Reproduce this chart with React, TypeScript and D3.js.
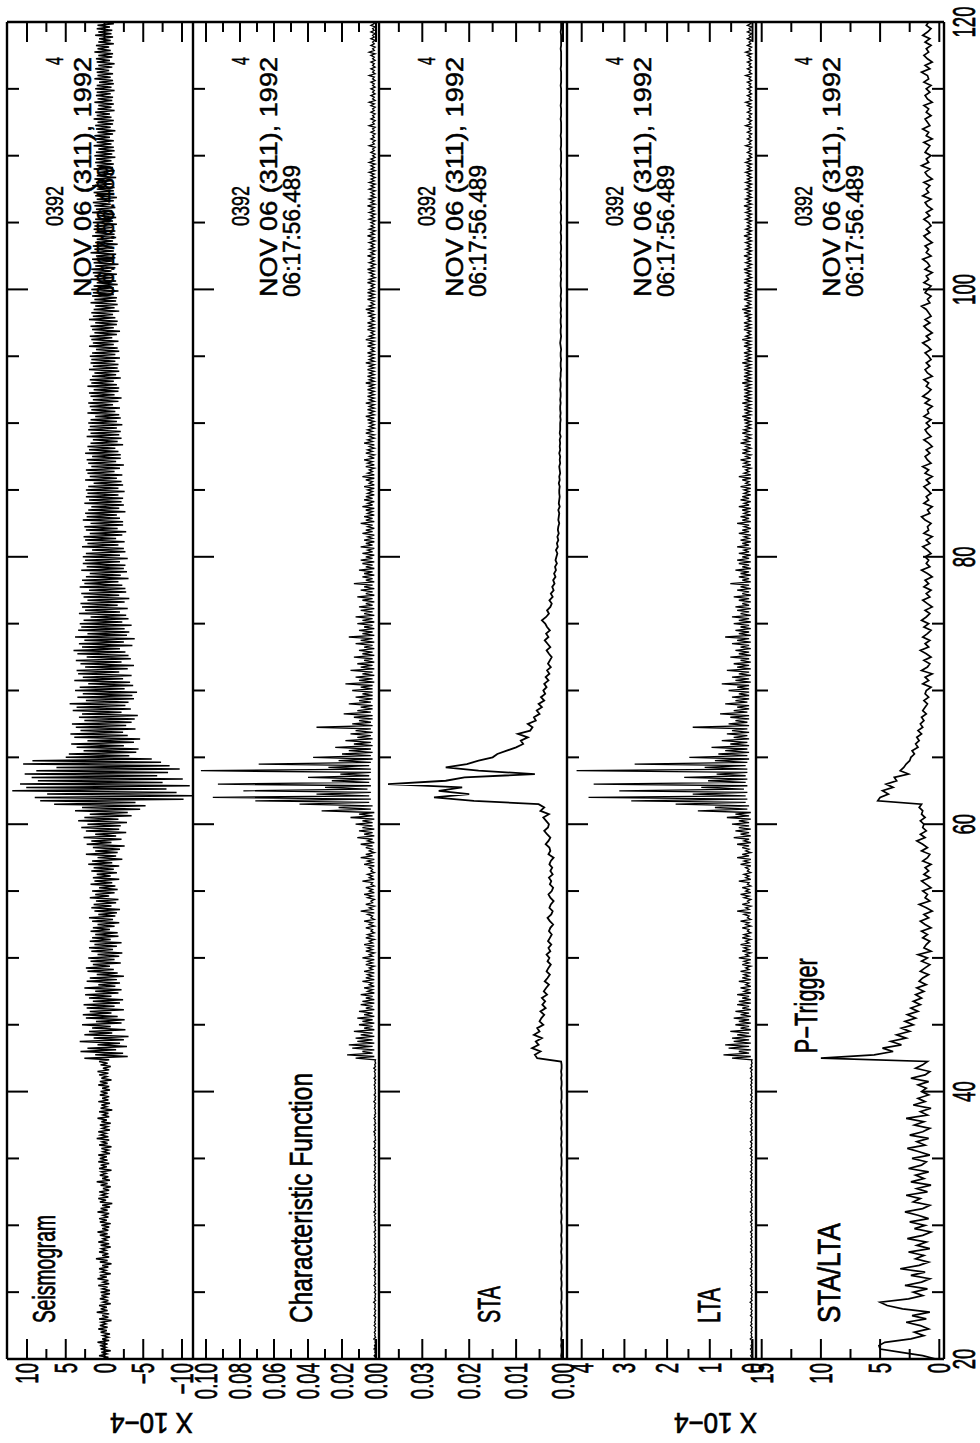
import React from 'react';
import * as d3 from 'd3';

const startTime = 20;
const endTime = 120;

// Seismogram (x 10^-4), 0.125 s samples, 20 s .. 120 s
const seismogram = [
  0.2,-0.5,0.7,-0.3,0.4,-0.8,0.5,-0.2,0.6,-0.4, 0.9,-0.6,0.3,-0.5,0.2,-0.7,0.5,-0.3,0.8,-0.4, 0.6,-0.2,0.4,-0.9,0.7,-0.5,0.3,-0.6,1.0,-0.4, 0.5,-0.3,0.7,-0.8,0.2,-0.5,0.6,-0.3,0.4,-0.7,
  0.5,-0.7,0.3,-0.4,0.8,-0.6,0.2,-0.5,0.9,-0.3, 0.6,-0.8,0.4,-0.2,0.7,-0.5,0.3,-0.9,0.6,-0.4, 1.1,-0.6,0.3,-0.5,0.7,-0.2,0.4,-0.8,0.5,-0.6, 0.8,-0.3,0.2,-0.7,0.6,-0.4,0.9,-0.5,0.3,-0.6,
  0.4,-0.8,0.6,-0.3,0.7,-0.5,0.2,-0.6,0.9,-0.4, 0.5,-0.7,0.3,-1.0,0.6,-0.2,0.8,-0.5,0.4,-0.3, 0.7,-0.6,0.2,-0.8,0.5,-0.4,1.0,-0.7,0.3,-0.5, 0.6,-0.2,0.4,-0.9,0.7,-0.3,0.5,-0.6,0.8,-0.4,
  0.6,-0.3,0.8,-0.7,0.2,-0.5,0.4,-0.9,0.7,-0.4, 0.3,-0.6,1.0,-0.5,0.5,-0.2,0.8,-0.7,0.3,-0.4, 0.6,-0.8,0.4,-0.3,0.9,-0.6,0.2,-0.5,0.7,-1.0, 0.5,-0.3,0.4,-0.7,0.8,-0.5,0.3,-0.6,0.6,-0.4,
  0.5,-0.7,0.3,-0.6,0.8,-0.4,0.6,-0.9,0.4,-0.3, 0.7,-0.5,0.9,-0.6,0.2,-0.8,0.5,-0.4,0.7,-0.6, 2.6,-3.0,1.2,-2.4,3.1,-1.5,2.2,-2.9,0.9,-2.0, 3.2,-2.5,1.4,-3.1,2.6,-1.0,2.0,-2.7,1.6,-0.8,
  2.9,-2.2,1.1,-2.6,2.4,-1.7,2.8,-0.9,1.9,-2.5, 2.3,-1.3,2.7,-2.0,1.5,-2.4,2.0,-0.9,2.5,-1.8, 1.2,-2.2,2.6,-1.4,0.8,-2.0,2.3,-1.6,1.9,-2.5, 1.0,-1.7,2.2,-1.2,2.4,-0.7,1.5,-2.1,1.8,-1.3,
  2.1,-1.9,0.9,-2.3,1.7,-1.1,2.0,-1.6,1.3,-2.2, 1.9,-0.8,1.6,-1.8,1.2,-1.7,1.8,-0.7,1.5,-1.3, 0.9,-1.9,1.6,-1.1,2.0,-1.4,0.8,-1.6,1.3,-2.0, 1.7,-0.9,1.4,-1.5,1.1,-1.8,1.9,-0.6,1.2,-1.3,
  1.6,-1.7,0.7,-1.4,1.8,-1.0,1.3,-1.9,1.5,-0.8, 1.0,-1.6,1.7,-1.2,1.4,-1.9,2.1,-1.0,1.6,-2.3, 0.9,-1.5,2.4,-1.7,1.2,-2.0,1.5,-2.6,2.3,-0.9, 1.7,-2.2,2.7,-1.5,1.2,-2.8,2.4,-1.9,3.0,-2.1,
  2.2,-2.9,3.4,-1.8,2.6,-3.5,1.9,-3.0, 3.8,-4.6,2.9,-5.3,6.5,-4.0,8.3,-10.2, 9.0,-11.6,7.4,-9.3,11.9,-8.0,10.1,-11.0, 10.9,-7.5,8.6,-10.1,9.4,-6.8,10.3,-8.2, 8.8,-9.7,6.2,-8.4,10.5,-7.3,9.3,-6.1,
  5.0,-3.2,4.6,-4.1,2.7,-4.4,3.6,-2.5,4.3,-3.8, 2.2,-4.6,3.9,-3.0,4.4,-2.4,3.1,-4.0,3.7,-2.8, 4.2,-3.5,2.6,-3.9,3.3,-4.3,2.9,-2.2,4.1,-3.4, 3.6,-2.7,4.5,-3.1,2.4,-3.8,3.5,-3.6,2.8,-4.2,
  3.8,-2.6,3.2,-3.7,2.1,-3.3,3.9,-2.4,2.8,-3.5, 3.4,-1.9,3.6,-3.0,2.5,-3.8,3.1,-2.2,3.7,-3.4, 2.3,-3.1,3.5,-2.7,4.0,-2.0,2.9,-3.6,3.3,-2.5, 2.6,-3.9,3.8,-2.9,2.2,-3.2,3.4,-2.6,3.0,-3.5,
  3.2,-2.3,2.7,-3.1,1.8,-2.8,3.3,-2.0,2.5,-3.0, 2.9,-1.7,3.1,-2.6,2.2,-3.2,2.7,-1.9,3.0,-2.8, 2.0,-2.7,3.2,-2.3,2.6,-1.8,2.9,-3.1,2.4,-2.1, 1.9,-2.9,3.0,-2.5,2.3,-2.7,2.8,-2.0,2.5,-3.0,
  2.8,-2.0,2.4,-2.7,1.6,-2.5,2.9,-1.8,2.2,-2.6, 2.5,-1.5,2.7,-2.3,1.9,-2.8,2.4,-1.7,2.6,-2.4, 1.8,-2.4,2.8,-2.0,2.3,-1.6,2.5,-2.7,2.1,-1.9, 1.7,-2.5,2.6,-2.2,2.0,-2.4,2.4,-1.8,2.2,-2.6,
  2.4,-1.8,2.1,-2.4,1.4,-2.2,2.5,-1.6,1.9,-2.3, 2.2,-1.3,2.4,-2.0,1.7,-2.5,2.1,-1.5,2.3,-2.1, 1.6,-2.1,2.5,-1.8,2.0,-1.4,2.2,-2.4,1.8,-1.7, 1.5,-2.2,2.3,-1.9,1.8,-2.1,2.1,-1.6,1.9,-2.3,
  2.1,-1.6,1.8,-2.1,1.2,-1.9,2.2,-1.4,1.7,-2.0, 1.9,-1.1,2.1,-1.8,1.5,-2.2,1.8,-1.3,2.0,-1.8, 1.4,-1.9,2.2,-1.6,1.7,-1.2,1.9,-2.1,1.6,-1.5, 1.3,-1.9,2.0,-1.7,1.5,-1.8,1.8,-1.4,1.7,-2.0,
  1.9,-1.4,1.6,-1.9,1.1,-1.7,2.0,-1.2,1.5,-1.8, 1.7,-1.0,1.9,-1.6,1.3,-2.0,1.6,-1.2,1.8,-1.6, 1.2,-1.7,2.0,-1.4,1.5,-1.1,1.7,-1.9,1.4,-1.3, 1.2,-1.7,1.8,-1.5,1.3,-1.6,1.6,-1.2,1.5,-1.8,
  1.7,-1.2,1.4,-1.7,1.0,-1.5,1.8,-1.1,1.3,-1.6, 1.5,-0.9,1.7,-1.4,1.2,-1.8,1.4,-1.0,1.6,-1.4, 1.1,-1.5,1.8,-1.2,1.3,-1.0,1.5,-1.7,1.2,-1.1, 1.0,-1.5,1.6,-1.3,1.2,-1.4,1.4,-1.0,1.3,-1.6,
  1.5,-1.1,1.2,-1.5,0.9,-1.3,1.6,-1.0,1.1,-1.4, 1.3,-0.8,1.5,-1.2,1.0,-1.6,1.2,-0.9,1.4,-1.2, 1.0,-1.3,1.6,-1.0,1.1,-0.8,1.3,-1.5,1.0,-1.0, 0.9,-1.3,1.4,-1.1,1.0,-1.2,1.2,-0.9,1.1,-1.4,
  1.3,-1.0,1.1,-1.3,0.8,-1.2,1.4,-0.9,1.0,-1.2, 1.1,-0.7,1.3,-1.1,0.9,-1.4,1.1,-0.8,1.2,-1.1, 0.9,-1.2,1.4,-0.9,1.0,-0.7,1.2,-1.3,0.9,-0.9, 0.8,-1.2,1.3,-1.0,0.9,-1.1,1.1,-0.8,1.0,-1.3,
  1.2,-0.9,1.0,-1.2,0.7,-1.1,1.3,-0.8,0.9,-1.1, 1.0,-0.6,1.2,-1.0,0.8,-1.3,1.0,-0.7,1.1,-1.0, 0.8,-1.1,1.3,-0.8,0.9,-0.6,1.1,-1.2,0.8,-0.8, 0.7,-1.1,1.2,-0.9,0.8,-1.0,1.0,-0.7,0.9,-1.2,
  0.4,
];

// Characteristic function, 0.125 s samples
const characteristicFunction = [
  0.0008,0.0003,0.0011,0.0002,0.0007,0.0004,0.0012,0.0003,0.0009,0.0002, 0.0006,0.0003,0.0013,0.0002,0.0008,0.0004,0.001,0.0003,0.0007,0.0002, 0.0011,0.0003,0.0009,0.0004,0.0006,0.0002,0.0012,0.0003,0.0008,0.0002, 0.001,0.0004,0.0007,0.0003,0.0014,0.0002,0.0009,0.0003,0.0006,0.0002,
  0.001,0.0002,0.0007,0.0003,0.0012,0.0002,0.0008,0.0004,0.0006,0.0003, 0.0011,0.0002,0.0009,0.0003,0.0013,0.0004,0.0007,0.0002,0.001,0.0003, 0.0008,0.0002,0.0006,0.0004,0.0012,0.0003,0.0009,0.0002,0.0011,0.0003, 0.0007,0.0004,0.001,0.0002,0.0008,0.0003,0.0012,0.0002,0.0006,0.0003,
  0.0009,0.0003,0.0012,0.0002,0.0007,0.0004,0.001,0.0002,0.0013,0.0003, 0.0008,0.0002,0.0006,0.0003,0.0011,0.0004,0.0009,0.0002,0.0007,0.0003, 0.0012,0.0002,0.0008,0.0003,0.001,0.0004,0.0006,0.0002,0.0011,0.0003, 0.0009,0.0002,0.0013,0.0004,0.0007,0.0003,0.001,0.0002,0.0008,0.0003,
  0.0007,0.0002,0.0011,0.0003,0.0009,0.0002,0.0014,0.0004,0.0008,0.0003, 0.0012,0.0002,0.0006,0.0003,0.001,0.0004,0.0013,0.0002,0.0008,0.0003, 0.0011,0.0002,0.0007,0.0004,0.0012,0.0003,0.0009,0.0002,0.0006,0.0003, 0.001,0.0004,0.0008,0.0002,0.0013,0.0003,0.0007,0.0002,0.0011,0.0003,
  0.0006,0.0003,0.0009,0.0004,0.0011,0.0003,0.0008,0.0002,0.0012,0.0003, 0.0007,0.0004,0.001,0.0002,0.0013,0.0003,0.0008,0.0002,0.0006,0.0003, 0.012,0.001,0.017,0.002,0.008,0.001,0.014,0.002,0.016,0.001, 0.011,0.002,0.012,0.001,0.009,0.002,0.013,0.001,0.007,0.002,
  0.010,0.001,0.008,0.002,0.011,0.001,0.007,0.002,0.010,0.001, 0.006,0.002,0.009,0.001,0.008,0.001,0.006,0.002,0.009,0.001, 0.005,0.002,0.007,0.001,0.004,0.002,0.008,0.001,0.006,0.002, 0.005,0.001,0.007,0.002,0.004,0.001,0.006,0.002,0.005,0.001,
  0.008,0.002,0.004,0.001,0.006,0.002,0.005,0.001,0.007,0.002, 0.004,0.001,0.006,0.002,0.005,0.001,0.003,0.002,0.006,0.001, 0.004,0.002,0.007,0.001,0.003,0.002,0.005,0.001,0.009,0.002, 0.004,0.001,0.006,0.002,0.003,0.001,0.005,0.002,0.007,0.001,
  0.004,0.002,0.006,0.001,0.003,0.002,0.008,0.001,0.004,0.002, 0.005,0.001,0.003,0.002,0.004,0.001,0.007,0.002,0.005,0.001, 0.009,0.002,0.006,0.001,0.004,0.002,0.006,0.002,0.009,0.001, 0.005,0.002,0.011,0.001,0.007,0.002,0.010,0.001,0.008,0.002,
  0.012,0.002,0.008,0.001,0.015,0.002,0.010,0.001, 0.032,0.003,0.022,0.002,0.045,0.004,0.071,0.003, 0.096,0.004,0.035,0.003,0.078,0.005,0.030,0.003, 0.093,0.004,0.026,0.003,0.040,0.004,0.021,0.003, 0.103,0.003,0.028,0.004,0.069,0.003,0.022,0.002,
  0.037,0.003,0.020,0.002,0.016,0.003,0.024,0.002,0.013,0.003, 0.018,0.002,0.011,0.003,0.015,0.002,0.012,0.003,0.035,0.002, 0.014,0.003,0.010,0.002,0.013,0.002,0.019,0.003,0.011,0.002, 0.009,0.002,0.016,0.003,0.010,0.002,0.012,0.002,0.008,0.002,
  0.014,0.002,0.009,0.002,0.018,0.001,0.010,0.002,0.012,0.001, 0.008,0.002,0.015,0.001,0.009,0.002,0.011,0.001,0.007,0.002, 0.013,0.001,0.008,0.002,0.010,0.001,0.007,0.002,0.012,0.001, 0.009,0.002,0.016,0.001,0.008,0.002,0.010,0.001,0.007,0.002,
  0.011,0.001,0.008,0.002,0.012,0.001,0.007,0.002,0.009,0.001, 0.010,0.002,0.006,0.001,0.008,0.002,0.011,0.001,0.006,0.002, 0.009,0.001,0.007,0.002,0.013,0.001,0.006,0.002,0.008,0.001, 0.007,0.002,0.010,0.001,0.006,0.002,0.008,0.001,0.009,0.002,
  0.006,0.001,0.008,0.002,0.005,0.001,0.009,0.002,0.006,0.001, 0.007,0.002,0.005,0.001,0.008,0.002,0.006,0.001,0.005,0.002, 0.009,0.001,0.006,0.002,0.007,0.001,0.005,0.002,0.006,0.001, 0.008,0.002,0.005,0.001,0.007,0.002,0.006,0.001,0.005,0.002,
  0.005,0.001,0.007,0.001,0.004,0.002,0.006,0.001,0.008,0.001, 0.005,0.002,0.004,0.001,0.006,0.001,0.005,0.002,0.007,0.001, 0.004,0.001,0.006,0.002,0.005,0.001,0.004,0.001,0.007,0.002, 0.005,0.001,0.004,0.001,0.006,0.002,0.005,0.001,0.004,0.001,
  0.004,0.001,0.005,0.001,0.006,0.001,0.004,0.001,0.005,0.001, 0.004,0.001,0.006,0.001,0.004,0.001,0.005,0.001,0.004,0.001, 0.005,0.001,0.004,0.001,0.006,0.001,0.004,0.001,0.005,0.001, 0.004,0.001,0.005,0.001,0.004,0.001,0.006,0.001,0.004,0.001,
  0.004,0.001,0.005,0.001,0.003,0.001,0.005,0.001,0.004,0.001, 0.006,0.001,0.004,0.001,0.003,0.001,0.005,0.001,0.004,0.001, 0.005,0.001,0.003,0.001,0.004,0.001,0.005,0.001,0.006,0.001, 0.004,0.001,0.003,0.001,0.005,0.001,0.004,0.001,0.005,0.001,
  0.004,0.001,0.003,0.001,0.005,0.001,0.004,0.0005,0.003,0.001, 0.004,0.001,0.005,0.001,0.003,0.0005,0.004,0.001,0.003,0.001, 0.005,0.001,0.003,0.0005,0.004,0.001,0.003,0.001,0.004,0.0005, 0.003,0.001,0.005,0.001,0.003,0.0005,0.004,0.001,0.003,0.001,
  0.003,0.0005,0.004,0.001,0.003,0.0005,0.004,0.001,0.003,0.001, 0.005,0.0005,0.003,0.001,0.004,0.0005,0.003,0.001,0.003,0.0005, 0.004,0.001,0.003,0.0005,0.004,0.001,0.003,0.0005,0.003,0.001, 0.004,0.0005,0.003,0.001,0.003,0.0005,0.004,0.001,0.003,0.0005,
  0.002,0.0005,0.003,0.001,0.002,0.0005,0.004,0.001,0.002,0.0005, 0.003,0.001,0.002,0.0005,0.003,0.001,0.002,0.0005,0.004,0.001, 0.002,0.0005,0.003,0.001,0.002,0.0005,0.003,0.001,0.002,0.0005, 0.003,0.001,0.004,0.0005,0.002,0.001,0.003,0.0005,0.002,0.001,
  0.003,0.0005,0.002,0.001,0.003,0.0005,0.002,0.001,0.004,0.0005, 0.002,0.001,0.003,0.0005,0.002,0.001,0.003,0.0005,0.002,0.001, 0.003,0.0005,0.004,0.001,0.002,0.0005,0.003,0.001,0.002,0.0005, 0.003,0.001,0.002,0.0005,0.003,0.001,0.002,0.0005,0.003,0.001,
  0.002,
];

// Long-term average (x 10^-4), 0.125 s samples
const lta = [
  0.032,0.012,0.044,0.008,0.028,0.016,0.048,0.012,0.036,0.008, 0.024,0.012,0.052,0.008,0.032,0.016,0.04,0.012,0.028,0.008, 0.044,0.012,0.036,0.016,0.024,0.008,0.048,0.012,0.032,0.008, 0.04,0.016,0.028,0.012,0.056,0.008,0.036,0.012,0.024,0.008,
  0.04,0.008,0.028,0.012,0.048,0.008,0.032,0.016,0.024,0.012, 0.044,0.008,0.036,0.012,0.052,0.016,0.028,0.008,0.04,0.012, 0.032,0.008,0.024,0.016,0.048,0.012,0.036,0.008,0.044,0.012, 0.028,0.016,0.04,0.008,0.032,0.012,0.048,0.008,0.024,0.012,
  0.036,0.012,0.048,0.008,0.028,0.016,0.04,0.008,0.052,0.012, 0.032,0.008,0.024,0.012,0.044,0.016,0.036,0.008,0.028,0.012, 0.048,0.008,0.032,0.012,0.04,0.016,0.024,0.008,0.044,0.012, 0.036,0.008,0.052,0.016,0.028,0.012,0.04,0.008,0.032,0.012,
  0.028,0.008,0.044,0.012,0.036,0.008,0.056,0.016,0.032,0.012, 0.048,0.008,0.024,0.012,0.04,0.016,0.052,0.008,0.032,0.012, 0.044,0.008,0.028,0.016,0.048,0.012,0.036,0.008,0.024,0.012, 0.04,0.016,0.032,0.008,0.052,0.012,0.028,0.008,0.044,0.012,
  0.024,0.012,0.036,0.016,0.044,0.012,0.032,0.008,0.048,0.012, 0.028,0.016,0.04,0.008,0.052,0.012,0.032,0.008,0.024,0.012, 0.48,0.04,0.68,0.08,0.32,0.04,0.56,0.08,0.64,0.04, 0.44,0.08,0.48,0.04,0.36,0.08,0.52,0.04,0.28,0.08,
  0.4,0.04,0.32,0.08,0.44,0.04,0.28,0.08,0.4,0.04, 0.24,0.08,0.36,0.04,0.32,0.04,0.24,0.08,0.36,0.04, 0.2,0.08,0.28,0.04,0.16,0.08,0.32,0.04,0.24,0.08, 0.2,0.04,0.28,0.08,0.16,0.04,0.24,0.08,0.2,0.04,
  0.32,0.08,0.16,0.04,0.24,0.08,0.2,0.04,0.28,0.08, 0.16,0.04,0.24,0.08,0.2,0.04,0.12,0.08,0.24,0.04, 0.16,0.08,0.28,0.04,0.12,0.08,0.2,0.04,0.36,0.08, 0.16,0.04,0.24,0.08,0.12,0.04,0.2,0.08,0.28,0.04,
  0.16,0.08,0.24,0.04,0.12,0.08,0.32,0.04,0.16,0.08, 0.2,0.04,0.12,0.08,0.16,0.04,0.28,0.08,0.2,0.04, 0.36,0.08,0.24,0.04,0.16,0.08,0.24,0.08,0.36,0.04, 0.2,0.08,0.44,0.04,0.28,0.08,0.4,0.04,0.32,0.08,
  0.48,0.08,0.32,0.04,0.6,0.08,0.4,0.04, 1.28,0.12,0.88,0.08,1.8,0.16,2.84,0.12, 3.84,0.16,1.4,0.12,3.12,0.2,1.2,0.12, 3.72,0.16,1.04,0.12,1.6,0.16,0.84,0.12, 4.12,0.12,1.12,0.16,2.76,0.12,0.88,0.08,
  1.48,0.12,0.8,0.08,0.64,0.12,0.96,0.08,0.52,0.12, 0.72,0.08,0.44,0.12,0.6,0.08,0.48,0.12,1.4,0.08, 0.56,0.12,0.4,0.08,0.52,0.08,0.76,0.12,0.44,0.08, 0.36,0.08,0.64,0.12,0.4,0.08,0.48,0.08,0.32,0.08,
  0.56,0.08,0.36,0.08,0.72,0.04,0.4,0.08,0.48,0.04, 0.32,0.08,0.6,0.04,0.36,0.08,0.44,0.04,0.28,0.08, 0.52,0.04,0.32,0.08,0.4,0.04,0.28,0.08,0.48,0.04, 0.36,0.08,0.64,0.04,0.32,0.08,0.4,0.04,0.28,0.08,
  0.44,0.04,0.32,0.08,0.48,0.04,0.28,0.08,0.36,0.04, 0.4,0.08,0.24,0.04,0.32,0.08,0.44,0.04,0.24,0.08, 0.36,0.04,0.28,0.08,0.52,0.04,0.24,0.08,0.32,0.04, 0.28,0.08,0.4,0.04,0.24,0.08,0.32,0.04,0.36,0.08,
  0.24,0.04,0.32,0.08,0.2,0.04,0.36,0.08,0.24,0.04, 0.28,0.08,0.2,0.04,0.32,0.08,0.24,0.04,0.2,0.08, 0.36,0.04,0.24,0.08,0.28,0.04,0.2,0.08,0.24,0.04, 0.32,0.08,0.2,0.04,0.28,0.08,0.24,0.04,0.2,0.08,
  0.2,0.04,0.28,0.04,0.16,0.08,0.24,0.04,0.32,0.04, 0.2,0.08,0.16,0.04,0.24,0.04,0.2,0.08,0.28,0.04, 0.16,0.04,0.24,0.08,0.2,0.04,0.16,0.04,0.28,0.08, 0.2,0.04,0.16,0.04,0.24,0.08,0.2,0.04,0.16,0.04,
  0.16,0.04,0.2,0.04,0.24,0.04,0.16,0.04,0.2,0.04, 0.16,0.04,0.24,0.04,0.16,0.04,0.2,0.04,0.16,0.04, 0.2,0.04,0.16,0.04,0.24,0.04,0.16,0.04,0.2,0.04, 0.16,0.04,0.2,0.04,0.16,0.04,0.24,0.04,0.16,0.04,
  0.16,0.04,0.2,0.04,0.12,0.04,0.2,0.04,0.16,0.04, 0.24,0.04,0.16,0.04,0.12,0.04,0.2,0.04,0.16,0.04, 0.2,0.04,0.12,0.04,0.16,0.04,0.2,0.04,0.24,0.04, 0.16,0.04,0.12,0.04,0.2,0.04,0.16,0.04,0.2,0.04,
  0.16,0.04,0.12,0.04,0.2,0.04,0.16,0.02,0.12,0.04, 0.16,0.04,0.2,0.04,0.12,0.02,0.16,0.04,0.12,0.04, 0.2,0.04,0.12,0.02,0.16,0.04,0.12,0.04,0.16,0.02, 0.12,0.04,0.2,0.04,0.12,0.02,0.16,0.04,0.12,0.04,
  0.12,0.02,0.16,0.04,0.12,0.02,0.16,0.04,0.12,0.04, 0.2,0.02,0.12,0.04,0.16,0.02,0.12,0.04,0.12,0.02, 0.16,0.04,0.12,0.02,0.16,0.04,0.12,0.02,0.12,0.04, 0.16,0.02,0.12,0.04,0.12,0.02,0.16,0.04,0.12,0.02,
  0.08,0.02,0.12,0.04,0.08,0.02,0.16,0.04,0.08,0.02, 0.12,0.04,0.08,0.02,0.12,0.04,0.08,0.02,0.16,0.04, 0.08,0.02,0.12,0.04,0.08,0.02,0.12,0.04,0.08,0.02, 0.12,0.04,0.16,0.02,0.08,0.04,0.12,0.02,0.08,0.04,
  0.12,0.02,0.08,0.04,0.12,0.02,0.08,0.04,0.16,0.02, 0.08,0.04,0.12,0.02,0.08,0.04,0.12,0.02,0.08,0.04, 0.12,0.02,0.16,0.04,0.08,0.02,0.12,0.04,0.08,0.02, 0.12,0.04,0.08,0.02,0.12,0.04,0.08,0.02,0.12,0.04,
  0.08,
];

// Short-term average, 0.25 s samples
const sta = [
  0.0003,0.0004,0.0003,0.0003,0.0004,0.0003,0.0004,0.0003,0.0003,0.0004,0.0003,0.0003,0.0004,0.0003,0.0004,0.0003,0.0003,0.0004,0.0003,0.0003,
  0.0003,0.0004,0.0003,0.0003,0.0004,0.0003,0.0004,0.0003,0.0003,0.0004,0.0003,0.0003,0.0004,0.0003,0.0004,0.0003,0.0003,0.0004,0.0003,0.0003,
  0.0003,0.0004,0.0003,0.0003,0.0004,0.0003,0.0004,0.0003,0.0003,0.0004,0.0003,0.0003,0.0004,0.0003,0.0004,0.0003,0.0003,0.0004,0.0003,0.0003,
  0.0003,0.0004,0.0003,0.0003,0.0004,0.0003,0.0004,0.0003,0.0003,0.0004,0.0003,0.0003,0.0004,0.0003,0.0004,0.0003,0.0003,0.0004,0.0003,0.0003,
  0.0003,0.0004,0.0003,0.0003,0.0004,0.0003,0.0004,0.0003,0.0003,0.0004,0.0055,0.0060,0.0048,0.0066,0.0052,0.0058,0.0045,0.0062,0.0050,0.0055,
  0.0042,0.0050,0.0046,0.0040,0.0048,0.0037,0.0044,0.0038,0.0045,0.0034,0.0041,0.0036,0.0030,0.0039,0.0033,0.0028,0.0035,0.0031,0.0026,0.0033,
  0.0029,0.0035,0.0027,0.0031,0.0025,0.0032,0.0028,0.0024,0.0030,0.0027,0.0021,0.0028,0.0033,0.0025,0.0022,0.0029,0.0026,0.0020,0.0027,0.0031,
  0.0024,0.0021,0.0028,0.0025,0.0030,0.0022,0.0027,0.0023,0.0029,0.0026,0.0020,0.0031,0.0027,0.0029,0.0037,0.0031,0.0027,0.0034,0.0040,0.0032,
  0.0030,0.0036,0.0042,0.0030,0.0048,0.0040,0.0052,0.0190,0.0275,0.0200,0.0265,0.0215,0.0373,0.0250,0.0210,0.0060,0.0180,0.0250,0.0205,0.0180,
  0.0150,0.0140,0.0120,0.0100,0.0085,0.0090,0.0075,0.0096,0.0070,0.0065,0.0075,0.0058,0.0062,0.0050,0.0056,0.0045,0.0052,0.0040,0.0047,0.0038,
  0.0042,0.0035,0.0040,0.0031,0.0037,0.0029,0.0034,0.0026,0.0032,0.0028,0.0024,0.0030,0.0035,0.0027,0.0033,0.0039,0.0031,0.0036,0.0028,0.0034,
  0.0038,0.0045,0.0036,0.0030,0.0034,0.0027,0.0024,0.0029,0.0022,0.0026,0.0020,0.0023,0.0018,0.0021,0.0016,0.0019,0.0015,0.0017,0.0013,0.0016,
  0.0014,0.0012,0.0015,0.0011,0.0013,0.0010,0.0012,0.0009,0.0011,0.0010,0.0008,0.0010,0.0009,0.0008,0.0010,0.0007,0.0009,0.0008,0.0007,0.0008,
  0.0008,0.0007,0.0009,0.0007,0.0008,0.0006,0.0007,0.0008,0.0006,0.0007,0.0006,0.0008,0.0006,0.0007,0.0006,0.0007,0.0005,0.0007,0.0006,0.0006,
  0.0006,0.0005,0.0006,0.0005,0.0006,0.0006,0.0005,0.0006,0.0005,0.0005,0.0006,0.0005,0.0005,0.0006,0.0005,0.0005,0.0004,0.0005,0.0005,0.0004,
  0.0005,0.0005,0.0004,0.0005,0.0006,0.0005,0.0004,0.0005,0.0005,0.0004,0.0005,0.0005,0.0004,0.0005,0.0004,0.0005,0.0005,0.0004,0.0005,0.0004,
  0.0004,0.0005,0.0005,0.0004,0.0005,0.0004,0.0005,0.0004,0.0004,0.0005,0.0004,0.0005,0.0004,0.0004,0.0005,0.0004,0.0004,0.0005,0.0004,0.0004,
  0.0005,0.0004,0.0004,0.0005,0.0004,0.0004,0.0005,0.0004,0.0004,0.0004,0.0005,0.0004,0.0004,0.0005,0.0004,0.0004,0.0004,0.0005,0.0004,0.0004,
  0.0004,0.0004,0.0005,0.0004,0.0004,0.0004,0.0005,0.0004,0.0004,0.0004,0.0004,0.0005,0.0004,0.0004,0.0004,0.0005,0.0004,0.0004,0.0004,0.0004,
  0.0004,0.0005,0.0004,0.0004,0.0004,0.0004,0.0005,0.0004,0.0004,0.0004,0.0004,0.0004,0.0005,0.0004,0.0004,0.0004,0.0004,0.0005,0.0004,0.0004,
  0.0004,
];

// STA / LTA ratio, 0.25 s samples
const staLta = [
  0.3,1.4,3.2,5.0,5.1,4.6,2.4,1.3,2.1,0.9,1.6,2.8,1.1,2.3,0.8,3.1,4.4,5.0,2.6,1.4,
  2.2,1.0,2.9,1.5,0.8,2.4,1.2,3.3,1.7,0.9,2.0,1.3,2.6,0.8,1.9,1.1,2.7,1.4,0.7,2.1,
  1.2,2.5,0.9,1.8,2.9,1.4,0.8,2.2,1.6,2.8,1.0,1.9,0.7,2.4,1.3,2.0,0.9,2.6,1.5,1.1,
  2.3,0.8,1.7,2.7,1.2,1.9,0.9,2.5,1.4,0.8,2.1,1.3,2.8,1.0,1.6,0.7,2.2,1.2,1.8,0.9,
  1.5,1.1,1.8,0.9,2.4,1.2,0.8,2.0,1.4,1.0,10.0,5.5,3.9,4.8,3.2,4.1,2.8,3.6,2.5,3.2,
  2.2,2.9,2.0,2.7,1.8,2.4,1.6,2.2,1.5,2.0,1.3,1.9,1.1,1.7,1.4,0.9,1.6,1.2,0.8,1.5,
  1.0,1.8,0.7,1.3,1.1,0.8,1.4,1.0,1.5,0.7,1.2,1.6,0.9,1.3,0.6,1.1,1.7,0.8,1.2,1.0,
  1.4,0.7,1.1,1.5,0.8,1.3,0.9,1.2,0.7,1.4,1.0,0.8,1.5,1.0,1.4,1.9,1.2,1.6,1.1,1.4,
  1.3,1.6,1.2,1.5,1.4,1.7,1.5,5.2,5.0,4.3,4.8,3.9,4.5,3.6,3.8,2.6,3.3,3.0,2.8,2.5,
  2.4,2.1,2.3,1.8,2.0,1.7,1.9,1.5,1.8,1.4,1.6,1.3,1.5,1.1,1.4,1.2,1.0,1.3,0.9,1.2,
  1.1,0.7,1.4,0.9,1.2,0.6,1.5,1.0,0.8,1.3,0.7,1.1,1.6,0.9,1.2,0.8,1.4,1.0,0.7,1.3,
  0.9,1.5,1.1,0.8,1.2,0.6,1.0,1.4,0.8,1.1,0.7,1.3,0.9,1.2,0.6,1.0,1.5,0.8,1.1,0.9,
  1.2,0.7,1.0,1.4,0.8,1.1,0.6,1.3,0.9,1.0,0.7,1.2,1.5,0.8,1.0,0.6,1.3,0.9,1.1,0.7,
  1.0,1.3,0.8,1.1,0.6,1.2,0.9,1.4,0.7,1.0,1.2,0.8,1.1,0.6,0.9,1.3,0.7,1.0,1.2,0.8,
  1.1,0.7,1.3,0.9,1.0,0.6,1.2,0.8,1.4,1.0,0.7,1.1,0.9,1.3,0.6,1.0,1.2,0.8,1.1,0.7,
  0.9,1.2,0.7,1.0,1.4,0.8,1.1,0.6,1.0,1.3,0.8,1.2,0.7,0.9,1.1,1.5,0.8,1.0,0.7,1.2,
  1.0,0.7,1.3,0.9,1.1,0.6,1.2,0.8,1.0,1.4,0.7,1.1,0.9,1.2,0.6,1.0,1.3,0.8,1.1,0.7,
  0.9,1.3,0.8,1.1,0.6,1.0,1.2,0.7,1.4,0.9,1.1,0.8,1.3,0.6,1.0,1.2,0.8,1.5,0.9,1.1,
  0.7,1.2,1.0,0.8,1.3,0.6,1.1,0.9,1.4,0.8,1.0,1.2,0.7,1.1,0.9,1.3,0.6,1.0,1.2,0.8,
  1.1,0.7,1.3,0.9,1.0,1.5,0.8,1.2,0.6,1.0,1.3,0.9,1.1,0.7,1.2,0.8,1.4,1.0,0.7,1.1,
  0.9,
];

const timeMajorTicks = [20, 40, 60, 80, 100, 120];
const timeMinorTicks = [25, 30, 35, 45, 50, 55, 65, 70, 75, 85, 90, 95, 105, 110, 115];

const seisMajor = [10, 5, 0, -5, -10];
const seisMinor = [7.5, 2.5, -2.5, -7.5];
const cfMajor = [0.1, 0.08, 0.06, 0.04, 0.02, 0];
const cfMinor = [0.09, 0.07, 0.05, 0.03, 0.01];
const staMajor = [0.03, 0.02, 0.01, 0];
const staMinor = [0.035, 0.025, 0.015, 0.005];
const ltaMajor = [4, 3, 2, 1, 0];
const ltaMinor = [3.5, 2.5, 1.5, 0.5];
const ratioMajor = [15, 10, 5, 0];
const ratioMinor = [12.5, 7.5, 2.5];

const headerStation = '0392';
const headerComponent = '4';
const headerDate = 'NOV 06 (311), 1992';
const headerTime = '06:17:56.489';
const triggerTime = 42.5;

const FONT = "'Liberation Sans', Arial, Helvetica, sans-serif";

function RText({ x, y, text, anchor = 'start', size = 31, sx = 0.6, angle = -90, len, sw = 0.7 }: any) {
  return (
    <text
      transform={`translate(${x},${y}) rotate(${angle}) scale(${sx},1)`}
      textAnchor={anchor}
      fontSize={size}
      fontFamily={FONT}
      fill="#000"
      stroke="#000"
      strokeWidth={sw}
      textLength={len ? len / sx : undefined}
      lengthAdjust={len ? 'spacingAndGlyphs' : undefined}
    >
      {text}
    </text>
  );
}

const minus = (v: number) => (v < 0 ? '\u2212' + Math.abs(v) : String(v));
const f2 = d3.format('.2f');

export default function App() {
  const W = 980, H = 1443;
  const y = d3.scaleLinear().domain([startTime, endTime]).range([1359, 22]);
  const yTop = y(endTime), yBot = y(startTime);
  const frameLeft = 7, frameRight = 944;

  const panels = [
    { id: 'seis', data: seismogram, x0: 7, x1: 193, dom: [10, -10], rng: [27, 182], major: seisMajor, minor: seisMinor, fmt: minus,
      label: 'Seismogram', labelX: 55, labelLen: 108, sw: 1.5 },
    { id: 'cf', data: characteristicFunction, x0: 193, x1: 379, dom: [0.1, 0], rng: [206, 376], major: cfMajor, minor: cfMinor, fmt: f2,
      label: 'Characteristic Function', labelX: 312, labelLen: 250, sw: 1.3 },
    { id: 'sta', data: sta, x0: 379, x1: 567, dom: [0.03, 0], rng: [422.3, 563], major: staMajor, minor: staMinor, fmt: f2,
      label: 'STA', labelX: 500, labelLen: 37, sw: 1.8 },
    { id: 'lta', data: lta, x0: 567, x1: 756, dom: [4, 0], rng: [581.7, 752.5], major: ltaMajor, minor: ltaMinor, fmt: String,
      label: 'LTA', labelX: 720, labelLen: 35, sw: 1.3 },
    { id: 'ratio', data: staLta, x0: 756, x1: 944, dom: [15, 0], rng: [761.7, 939.3], major: ratioMajor, minor: ratioMinor, fmt: String,
      label: 'STA/LTA', labelX: 840, labelLen: 100, sw: 1.7 },
  ];

  return (
    <svg width={W} height={H} style={{ position: 'absolute', left: 0, top: 0, background: '#fff' }}>
      <rect x={0} y={0} width={W} height={H} fill="#fff" />
      <defs>
        {panels.map((p) => (
          <clipPath id={`clip-${p.id}`} key={p.id}>
            <rect x={p.x0} y={yTop} width={p.x1 - p.x0} height={yBot - yTop} />
          </clipPath>
        ))}
      </defs>

      {panels.map((p) => {
        const xs = d3.scaleLinear().domain(p.dom).range(p.rng);
        const step = (endTime - startTime) / (p.data.length - 1);
        const line = d3
          .line<number>()
          .x((d) => xs(d))
          .y((d, i) => y(startTime + i * step));
        return (
          <g key={p.id}>
            <path d={line(p.data) || ''} fill="none" stroke="#000" strokeWidth={p.sw} clipPath={`url(#clip-${p.id})`} />
            {p.major.map((v) => (
              <g key={'M' + v}>
                <line x1={xs(v)} x2={xs(v)} y1={yBot} y2={yBot - 20} stroke="#000" strokeWidth={2} />
                <line x1={xs(v)} x2={xs(v)} y1={yTop} y2={yTop + 20} stroke="#000" strokeWidth={2} />
                <RText x={xs(v) + 11} y={1363} text={p.fmt(v)} anchor="end" />
              </g>
            ))}
            {p.minor.map((v) => (
              <g key={'m' + v}>
                <line x1={xs(v)} x2={xs(v)} y1={yBot} y2={yBot - 10} stroke="#000" strokeWidth={2} />
                <line x1={xs(v)} x2={xs(v)} y1={yTop} y2={yTop + 10} stroke="#000" strokeWidth={2} />
              </g>
            ))}
            {timeMajorTicks.map((t) => (
              <line key={'T' + t} x1={p.x0} x2={p.x0 + 21} y1={y(t)} y2={y(t)} stroke="#000" strokeWidth={2} />
            ))}
            {timeMinorTicks.map((t) => (
              <line key={'t' + t} x1={p.x0} x2={p.x0 + 12} y1={y(t)} y2={y(t)} stroke="#000" strokeWidth={2} />
            ))}
            <RText x={p.labelX} y={1323} text={p.label} len={p.labelLen} />
            <RText x={p.x0 + 56} y={226} text={headerStation} size={24} len={40} sw={0.5} />
            <RText x={p.x0 + 56} y={57} text={headerComponent} size={24} anchor="end" sw={0.5} />
            <RText x={p.x0 + 84} y={297} text={headerDate} size={24} len={240} sw={0.5} />
            <RText x={p.x0 + 107} y={297} text={headerTime} size={24} len={132} sw={0.5} />
          </g>
        );
      })}

      {timeMajorTicks.map((t) => (
        <line key={'RT' + t} x1={frameRight} x2={frameRight - 21} y1={y(t)} y2={y(t)} stroke="#000" strokeWidth={2} />
      ))}
      {timeMinorTicks.map((t) => (
        <line key={'rt' + t} x1={frameRight} x2={frameRight - 12} y1={y(t)} y2={y(t)} stroke="#000" strokeWidth={2} />
      ))}
      {timeMajorTicks.map((t) => (
        <RText key={'TL' + t} x={975} y={y(t)} text={String(t)} anchor="middle" />
      ))}

      {panels.map((p) => (
        <line key={'b' + p.id} x1={p.x0} x2={p.x0} y1={yTop} y2={yBot} stroke="#000" strokeWidth={2.4} />
      ))}
      <line x1={frameRight} x2={frameRight} y1={yTop} y2={yBot} stroke="#000" strokeWidth={2.4} />
      <line x1={frameLeft} x2={frameRight} y1={yTop} y2={yTop} stroke="#000" strokeWidth={2.4} />
      <line x1={frameLeft} x2={frameRight} y1={yBot} y2={yBot} stroke="#000" strokeWidth={2.4} />

      <RText x={193} y={1413} text="X 10−4" angle={180} size={29} sx={0.85} len={83} />
      <RText x={757} y={1413} text="X 10−4" angle={180} size={29} sx={0.85} len={83} />

      <RText x={817} y={y(triggerTime) - 5} text="P−Trigger" len={95} />
    </svg>
  );
}
